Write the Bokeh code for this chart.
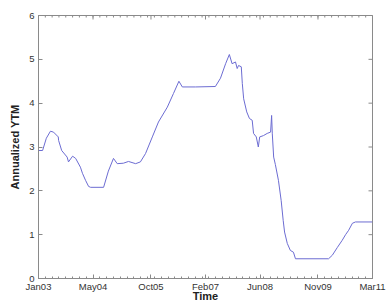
import math
from bokeh.plotting import figure
from bokeh.models import FixedTicker, Range1d
from bokeh.embed import file_html
from bokeh.resources import INLINE

# months since Jan 2003
months = [0, 1.2, 2.3, 3.5, 4.4, 5.8, 5.9, 6.8, 8.4, 8.8, 10.0, 10.9, 12.3, 12.9, 13.8, 14.7,
          15.3, 19.1, 20.5, 22.0, 23.1, 24.9, 26.4, 28.5, 29.9, 31.4, 33.4, 35.2, 37.8, 39.6,
          41.2, 42.2, 46.1, 51.9, 53.4, 54.9, 56.0, 56.8, 57.8, 58.3, 58.7, 59.5, 59.8, 60.2,
          61.1, 61.9, 62.7, 63.1, 63.9, 64.5, 64.9, 66.0, 67.1, 68.1, 68.4, 68.6, 69.0, 69.5,
          70.4, 71.2, 71.8, 72.2, 73.0, 73.9, 74.8, 75.4, 85.1, 86.2, 87.7, 89.1, 90.1, 91.0,
          92.1, 93.0, 98.0]
ytm = [2.92, 2.92, 3.20, 3.36, 3.34, 3.23, 3.15, 2.92, 2.77, 2.66, 2.79, 2.74, 2.54, 2.40, 2.24, 2.10,
       2.08, 2.08, 2.45, 2.74, 2.62, 2.63, 2.67, 2.62, 2.66, 2.85, 3.23, 3.57, 3.91, 4.22,
       4.50, 4.37, 4.37, 4.38, 4.57, 4.90, 5.11, 4.90, 4.94, 4.79, 4.86, 4.83, 4.45, 4.10,
       3.80, 3.65, 3.61, 3.31, 3.23, 3.00, 3.23, 3.26, 3.31, 3.34, 3.72, 3.30, 2.77, 2.60,
       2.24, 1.78, 1.32, 1.06, 0.80, 0.64, 0.60, 0.45, 0.45, 0.53, 0.71, 0.87, 1.00, 1.10,
       1.26, 1.29, 1.29]

tick_pos = [0, 16, 33, 49, 65, 82, 98]
tick_labels = ["Jan03", "May04", "Oct05", "Feb07", "Jun08", "Nov09", "Mar11"]
minor_pos = list(range(0, 99, 2))
y_ticks = [0, 1, 2, 3, 4, 5, 6]

FONT = "Liberation Sans"
AX_COL = "#8a8a8a"

p = figure(width=389, height=304, output_backend="svg", toolbar_location=None,
           x_range=Range1d(0, 98), y_range=Range1d(0, 6),
           min_border_left=38, min_border_right=17, min_border_top=15, min_border_bottom=26,
           x_axis_label="Time", y_axis_label="Annualized YTM")
p.outline_line_color = AX_COL
p.xgrid.visible = False
p.ygrid.visible = False
p.background_fill_color = "white"
p.border_fill_color = "white"

p.line(months, ytm, line_color="#6c6cd2", line_width=1)

# box ticks on top and right (inner half of each dash lies inside the frame)
p.scatter(minor_pos, [y_ticks[-1]] * len(minor_pos), marker="dash", size=4, angle=math.pi / 2,
          line_color=AX_COL, line_width=1)
p.scatter(tick_pos, [y_ticks[-1]] * len(tick_pos), marker="dash", size=8, angle=math.pi / 2,
          line_color=AX_COL, line_width=1)
p.scatter([tick_pos[-1]] * len(y_ticks), y_ticks, marker="dash", size=8,
          line_color=AX_COL, line_width=1)

xt = FixedTicker(ticks=tick_pos, minor_ticks=minor_pos)
yt = FixedTicker(ticks=y_ticks)

def style(ax):
    ax.axis_line_color = AX_COL
    ax.major_tick_line_color = AX_COL
    ax.minor_tick_line_color = AX_COL
    ax.major_tick_in = 4
    ax.major_tick_out = 0
    ax.minor_tick_in = 2
    ax.minor_tick_out = 0
    ax.major_label_text_font = FONT
    ax.major_label_text_font_size = "9.5px"
    ax.major_label_text_color = "#333333"
    ax.axis_label_text_font = FONT
    ax.axis_label_text_font_size = "11px"
    ax.axis_label_text_font_style = "bold"
    ax.axis_label_text_color = "#222222"

xa = p.xaxis[0]
xa.ticker = xt
xa.major_label_overrides = {t: l for t, l in zip(tick_pos, tick_labels)}
style(xa)
xa.major_label_standoff = 2
xa.axis_label_standoff = -5
ya = p.yaxis[0]
ya.ticker = yt
style(ya)
ya.minor_tick_line_color = None
ya.major_label_standoff = 4
ya.axis_label_standoff = 5

open("out.html", "w").write(file_html(p, INLINE))
